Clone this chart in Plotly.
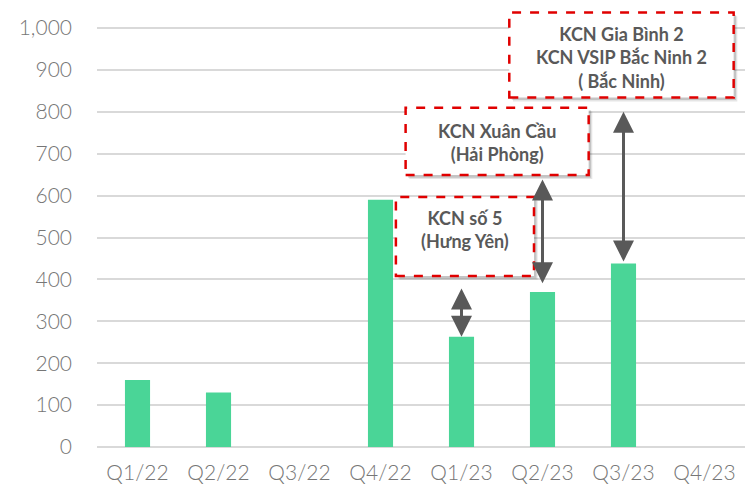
import plotly.graph_objects as go

# data
quarters = ["Q1/22", "Q2/22", "Q3/22", "Q4/22", "Q1/23", "Q2/23", "Q3/23", "Q4/23"]
values = [160, 130, 0, 590, 263, 370, 438, 0]
y_ticks = [0, 100, 200, 300, 400, 500, 600, 700, 800, 900, 1000]

# callouts: text, box (x0, x1, y0, y1), text centre (x, y)
callout_texts = [
    "KCN số 5<br>(Hưng Yên)",
    "KCN Xuân Cầu<br>(Hải Phòng)",
    "KCN Gia Bình 2<br>KCN VSIP Bắc Ninh 2<br>( Bắc Ninh)",
]
callout_boxes = [(3.19, 4.895, 408, 597), (3.31, 5.57, 649, 810), (4.59, 7.36, 834, 1037)]
callout_centres = [(4.04, 520), (4.44, 727), (5.97, 930)]

# double arrows: category index, low value, high value
arrow_x = [4, 5, 6]
arrow_low = [263, 391, 443]
arrow_high = [382, 642, 804]

fig = go.Figure()
fig.add_trace(go.Bar(
    x=list(range(len(quarters))),
    y=values,
    marker=dict(color="#4ad597", line=dict(width=0)),
    width=0.31,
))

shapes = []
annotations = []
for (x0, x1, y0, y1), txt, (cx, cy) in zip(callout_boxes, callout_texts, callout_centres):
    # soft drop shadow
    for dx, dy, op in [(0.045, 9, 0.10), (0.03, 6, 0.14)]:
        shapes.append(dict(type="rect", xref="x", yref="y",
                           x0=x0 + dx, x1=x1 + dx, y0=y0 - dy, y1=y1 - dy,
                           fillcolor="rgba(0,0,0,%s)" % op, line=dict(width=0), layer="above"))
    shapes.append(dict(type="rect", xref="x", yref="y", x0=x0, x1=x1, y0=y0, y1=y1,
                       fillcolor="white", layer="above",
                       line=dict(color="#e00000", width=2.5, dash="dash")))
    annotations.append(dict(x=cx, y=cy, xref="x", yref="y", text=txt, showarrow=False,
                            font=dict(family="Lato", size=18, color="#595959", weight="bold"),
                            align="center"))

for xa, lo, hi in zip(arrow_x, arrow_low, arrow_high):
    annotations.append(dict(x=xa, y=lo, ax=xa, ay=hi, xref="x", yref="y", axref="x", ayref="y",
                            text="", showarrow=True, arrowhead=2, startarrowhead=2,
                            arrowside="end+start", arrowsize=1.4, startarrowsize=1.4,
                            arrowwidth=3, arrowcolor="#595959"))

fig.update_layout(
    width=745, height=493,
    margin=dict(l=97, r=0, t=0, b=46),
    plot_bgcolor="white", paper_bgcolor="white",
    showlegend=False,
    shapes=shapes,
    annotations=annotations,
    font=dict(family="Lato", color="#7a7a7a"),
)
fig.update_xaxes(
    tickmode="array", tickvals=list(range(len(quarters))), ticktext=quarters,
    range=[-0.5, 7.5], showgrid=False, zeroline=False, showline=False, automargin=False,
    tickfont=dict(size=21, color="#767676", family="Lato", weight=300), ticklabelstandoff=11,
)
fig.update_yaxes(
    range=[0, 1067], tickvals=y_ticks, tickformat=",", automargin=False,
    showgrid=True, gridcolor="#d9d9d9", gridwidth=1.5,
    zeroline=True, zerolinecolor="#d9d9d9", zerolinewidth=1.5,
    tickfont=dict(size=21, color="#767676", family="Lato", weight=300), ticklabelstandoff=24,
)

# drop the browser's default body margin so the figure fills the window
fig.write_html("out.html", config={"displayModeBar": False},
               post_script="document.body.style.margin='0';")
